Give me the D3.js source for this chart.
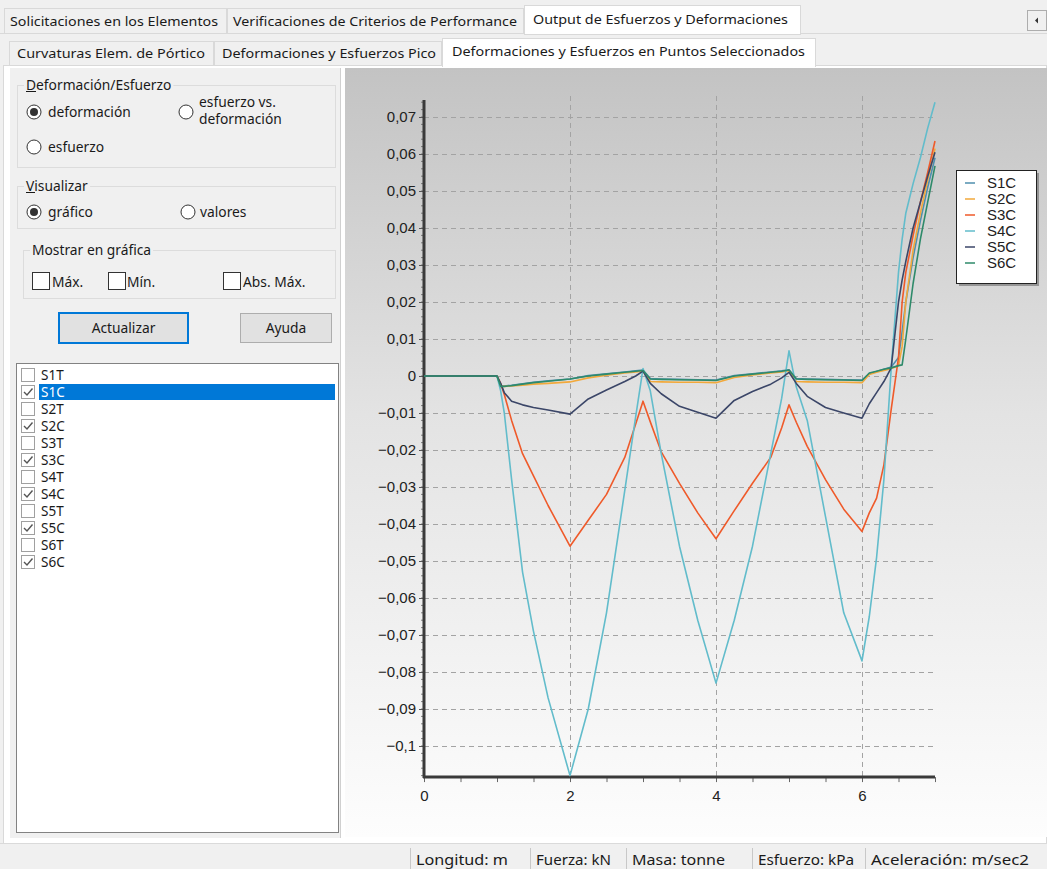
<!DOCTYPE html>
<html>
<head>
<meta charset="utf-8">
<script src="https://cdn.jsdelivr.net/npm/d3@7"></script>
<style>
  html, body { margin: 0; padding: 0; background: #f0f0f0; }
  svg { display: block; }
  .ui { font-family: "Noto Sans", "Open Sans", sans-serif; fill: #1a1a1a; }
  .ax { font-family: "Liberation Sans", Arial, sans-serif; fill: #222; }
</style>
</head>
<body>
<svg id="root" width="1047" height="869"></svg>
<script>
// ---------------- DATA ----------------
const xValues = [0, 1.0, 1.05, 1.1, 1.2, 1.35, 1.5, 1.7, 2.0, 2.25, 2.5, 2.75, 2.9, 3.0, 3.1, 3.25, 3.5, 3.75, 4.0, 4.25, 4.5, 4.75, 4.9, 5.0, 5.1, 5.25, 5.5, 5.75, 6.0, 6.1, 6.2, 6.3, 6.4, 6.5, 6.55, 6.6, 6.7, 6.8, 6.9, 7.0];
const seriesNames = ["S1C", "S2C", "S3C", "S4C", "S5C", "S6C"];
const s1c = [0, 0, -0.0028, -0.0027, -0.0025, -0.0021, -0.0017, -0.0013, -0.0008, 0.0001, 0.0006, 0.0011, 0.0014, 0.0016, -0.0007, -0.0008, -0.0009, -0.001, -0.0011, 0.0001, 0.0006, 0.0011, 0.0014, 0.0017, -0.0007, -0.0008, -0.0009, -0.001, -0.0011, 0.0006, 0.0012, 0.0018, 0.0024, 0.005, 0.012, 0.020, 0.032, 0.042, 0.051, 0.059];
const s2c = [0, 0, -0.0028, -0.0028, -0.0027, -0.0025, -0.0022, -0.002, -0.0016, -0.0005, 0.0002, 0.0008, 0.0011, 0.0013, -0.0015, -0.0016, -0.0017, -0.0017, -0.0018, -0.0004, 0.0003, 0.0008, 0.0011, 0.0014, -0.0015, -0.0016, -0.0017, -0.0017, -0.0018, 0.0004, 0.001, 0.0015, 0.002, 0.0028, 0.008, 0.020, 0.034, 0.044, 0.053, 0.0615];
const s3c = [0, 0, -0.002, -0.005, -0.012, -0.021, -0.027, -0.035, -0.046, -0.039, -0.032, -0.022, -0.013, -0.0068, -0.0124, -0.0205, -0.029, -0.037, -0.044, -0.0364, -0.029, -0.022, -0.014, -0.0078, -0.0125, -0.019, -0.028, -0.036, -0.042, -0.037, -0.033, -0.024, -0.009, 0.005, 0.020, 0.028, 0.038, 0.047, 0.055, 0.0635];
const s4c = [0, 0, -0.004, -0.010, -0.028, -0.053, -0.069, -0.087, -0.108, -0.090, -0.064, -0.031, -0.011, 0.002, -0.004, -0.021, -0.046, -0.066, -0.083, -0.066, -0.046, -0.021, -0.006, 0.0068, -0.003, -0.012, -0.038, -0.064, -0.077, -0.065, -0.049, -0.028, 0.002, 0.028, 0.037, 0.044, 0.052, 0.059, 0.067, 0.074];
const s5c = [0, 0, -0.002, -0.0045, -0.0068, -0.0078, -0.0085, -0.0092, -0.0103, -0.0062, -0.0038, -0.0015, 0.0, 0.0013, -0.002, -0.0048, -0.0082, -0.0098, -0.0114, -0.0066, -0.0042, -0.0022, -0.0005, 0.001, -0.002, -0.0055, -0.0085, -0.0100, -0.0114, -0.0075, -0.0045, -0.0015, 0.0022, 0.020, 0.026, 0.031, 0.040, 0.047, 0.054, 0.0605];
const s6c = [0, 0, -0.0028, -0.0028, -0.0026, -0.0022, -0.0018, -0.0014, -0.0008, 0.0, 0.0005, 0.001, 0.0013, 0.0015, -0.0008, -0.0009, -0.001, -0.0011, -0.0012, 0.0, 0.0005, 0.001, 0.0013, 0.0016, -0.0008, -0.0009, -0.001, -0.0011, -0.0012, 0.0008, 0.0013, 0.0018, 0.0022, 0.0028, 0.003, 0.010, 0.025, 0.037, 0.047, 0.0568];
const seriesColors = ["#4f8fae", "#f2a93b", "#ef5a2a", "#62bccb", "#3b4668", "#2e8a6a"];
const yTickValues = [0.07, 0.06, 0.05, 0.04, 0.03, 0.02, 0.01, 0, -0.01, -0.02, -0.03, -0.04, -0.05, -0.06, -0.07, -0.08, -0.09, -0.1];
const xTickValues = [0, 2, 4, 6];
const listItems = ["S1T", "S1C", "S2T", "S2C", "S3T", "S3C", "S4T", "S4C", "S5T", "S5C", "S6T", "S6C"];
const listChecked = [false, true, false, true, false, true, false, true, false, true, false, true];
const topTabs = ["Solicitaciones en los Elementos", "Verificaciones de Criterios de Performance", "Output de Esfuerzos y Deformaciones"];
const subTabs = ["Curvaturas Elem. de Pórtico", "Deformaciones y Esfuerzos Pico", "Deformaciones y Esfuerzos en Puntos Seleccionados"];
const statusItems = ["Longitud: m", "Fuerza: kN", "Masa: tonne", "Esfuerzo: kPa", "Aceleración: m/sec2"];

const seriesValues = [s1c, s2c, s3c, s4c, s5c, s6c];

// ---------------- LAYOUT (pixel geometry of the window) ----------------
const topTabBox = [[4, 227], [227, 524], [524, 801]];
const topTabTextW = [208, 284, 255];
const subTabBox = [[9, 214], [214, 442], [442, 816]];
const subTabTextW = [188, 214, 353];
const statusX = [410, 530, 626, 752, 865];
const statusTextW = [92, 75, 93, 96, 158];

// ---------------- UI ----------------
const svg = d3.select("#root");
const defs = svg.append("defs");

svg.append("rect").attr("x", 0).attr("y", 0).attr("width", 1047).attr("height", 869).attr("fill", "#f0f0f0");

// top tabs
svg.append("line").attr("x1", 0).attr("x2", 1047).attr("y1", 33.5).attr("y2", 33.5).attr("stroke", "#d9d9d9");
topTabs.forEach((t, i) => {
  const [a, b] = topTabBox[i];
  const active = i === 2;
  svg.append("rect").attr("x", a + 0.5).attr("y", active ? 5.5 : 8.5).attr("width", b - a - 1)
    .attr("height", active ? 29 : 25).attr("fill", active ? "#ffffff" : "#f0f0f0").attr("stroke", "#d9d9d9");
  svg.append("text").attr("class", "ui").attr("x", a + (active ? 9 : 6)).attr("y", active ? 24 : 26)
    .attr("font-size", 13).attr("textLength", topTabTextW[i]).attr("lengthAdjust", "spacingAndGlyphs").text(t);
});
svg.append("rect").attr("x", 1027.5).attr("y", 10.5).attr("width", 19).attr("height", 20).attr("fill", "#f0f0f0").attr("stroke", "#adadad");
svg.append("path").attr("d", "M1035,20.5 L1038,17.5 L1038,23.5 Z").attr("fill", "#333");

// sub tabs
svg.append("rect").attr("x", 3.5).attr("y", 65.5).attr("width", 1043).attr("height", 778).attr("fill", "#ffffff").attr("stroke", "#d9d9d9");
subTabs.forEach((t, i) => {
  const [a, b] = subTabBox[i];
  const active = i === 2;
  svg.append("rect").attr("x", a + 0.5).attr("y", active ? 38.5 : 41.5).attr("width", b - a - 1)
    .attr("height", active ? 28 : 24).attr("fill", active ? "#ffffff" : "#f0f0f0").attr("stroke", "#d9d9d9");
  svg.append("text").attr("class", "ui").attr("x", a + (active ? 10 : 8)).attr("y", active ? 56 : 58)
    .attr("font-size", 13).attr("textLength", subTabTextW[i]).attr("lengthAdjust", "spacingAndGlyphs").text(t);
});
svg.append("rect").attr("x", 443).attr("y", 63).attr("width", 372).attr("height", 4).attr("fill", "#ffffff");

// left panel
svg.append("rect").attr("x", 10).attr("y", 68).attr("width", 331).attr("height", 770).attr("fill", "#f0f0f0");
svg.append("line").attr("x1", 340.5).attr("x2", 340.5).attr("y1", 68).attr("y2", 838).attr("stroke", "#d0d0d0");

const UIFS = 13.8;
function groupBox(x, y, w, h, label, lx) {
  svg.append("rect").attr("x", x + 0.5).attr("y", y + 0.5).attr("width", w).attr("height", h)
    .attr("fill", "none").attr("stroke", "#dcdcdc");
  const t = svg.append("text").attr("class", "ui").attr("x", lx).attr("y", y + 5).attr("font-size", UIFS).text(label);
  const bb = t.node().getBBox();
  svg.insert("rect", () => t.node()).attr("x", bb.x - 2).attr("y", y - 2).attr("width", bb.width + 4).attr("height", 5).attr("fill", "#f0f0f0");
  return t;
}
function radio(cx, cy, on) {
  svg.append("circle").attr("cx", cx).attr("cy", cy).attr("r", 7).attr("fill", "#fff").attr("stroke", "#333").attr("stroke-width", 1);
  if (on) svg.append("circle").attr("cx", cx).attr("cy", cy).attr("r", 4).attr("fill", "#333");
}
function check(x, y, s) {
  svg.append("rect").attr("x", x + 0.5).attr("y", y + 0.5).attr("width", s).attr("height", s).attr("fill", "#fff").attr("stroke", "#333");
}
function label(x, y, t, size) {
  return svg.append("text").attr("class", "ui").attr("x", x).attr("y", y).attr("font-size", size || UIFS).text(t);
}

groupBox(17, 85, 318, 82, "Deformación/Esfuerzo", 26);
svg.append("line").attr("x1", 26).attr("x2", 36).attr("y1", 91.5).attr("y2", 91.5).attr("stroke", "#1a1a1a");
radio(34, 112, true); label(48, 117, "deformación");
radio(186, 112, false); label(199, 107, "esfuerzo vs."); label(199, 124, "deformación");
radio(34, 147, false); label(48, 152, "esfuerzo");

groupBox(17, 186, 318, 42, "Visualizar", 26);
svg.append("line").attr("x1", 26).attr("x2", 35).attr("y1", 192.5).attr("y2", 192.5).attr("stroke", "#1a1a1a");
radio(34, 212, true); label(48, 217, "gráfico");
radio(188, 212, false); label(200, 217, "valores");

groupBox(23, 250, 312, 48, "Mostrar en gráfica", 32);
check(32, 272, 17); label(52, 287, "Máx.");
check(108, 272, 17); label(127, 287, "Mín.");
check(223, 272, 17); label(243, 287, "Abs. Máx.");

svg.append("rect").attr("x", 59).attr("y", 313).attr("width", 129).attr("height", 30).attr("fill", "#e1e1e1").attr("stroke", "#0078d7").attr("stroke-width", 2);
svg.append("text").attr("class", "ui").attr("x", 123.5).attr("y", 333).attr("text-anchor", "middle").attr("font-size", UIFS).text("Actualizar");
svg.append("rect").attr("x", 240.5).attr("y", 313.5).attr("width", 91).attr("height", 29).attr("fill", "#e1e1e1").attr("stroke", "#adadad");
svg.append("text").attr("class", "ui").attr("x", 286).attr("y", 333).attr("text-anchor", "middle").attr("font-size", UIFS).text("Ayuda");

// list box
svg.append("rect").attr("x", 16.5).attr("y", 363.5).attr("width", 322).attr("height", 469).attr("fill", "#fff").attr("stroke", "#828282");
listItems.forEach((it, i) => {
  const cy = 375 + i * 17;
  if (i === 1) {
    svg.append("rect").attr("x", 39).attr("y", cy - 8).attr("width", 296).attr("height", 16).attr("fill", "#0078d7");
  }
  svg.append("rect").attr("x", 21.5).attr("y", cy - 6.5).attr("width", 13).attr("height", 13).attr("fill", "#fff").attr("stroke", "#a0a0a0");
  if (listChecked[i]) {
    svg.append("path").attr("d", `M24,${cy} L27,${cy + 3} L32.5,${cy - 3.5}`).attr("fill", "none").attr("stroke", "#555").attr("stroke-width", 1.4);
  }
  svg.append("text").attr("class", "ui").attr("x", 41).attr("y", cy + 5).attr("font-size", 13.5)
    .style("fill", i === 1 ? "#ffffff" : null).text(it);
});

// ---------------- CHART ----------------
const grad = defs.append("linearGradient").attr("id", "bg").attr("x1", 0).attr("x2", 0).attr("y1", 0).attr("y2", 1);
grad.append("stop").attr("offset", "0%").attr("stop-color", "#c3c3c3");
grad.append("stop").attr("offset", "45%").attr("stop-color", "#e3e3e3");
grad.append("stop").attr("offset", "100%").attr("stop-color", "#fdfdfd");
svg.append("rect").attr("x", 345).attr("y", 68).attr("width", 702).attr("height", 769).attr("fill", "url(#bg)");

const x = d3.scaleLinear().domain([0, 7]).range([424, 935]);
const y = d3.scaleLinear().domain([-0.1, 0.07]).range([746, 117]);
const yTop = 0.0746, yBottom = -0.1084;

const chart = svg.append("g");
chart.append("g").selectAll("line").data(yTickValues).join("line")
  .attr("x1", x(0)).attr("x2", x(7)).attr("y1", d => Math.round(y(d)) + 0.5).attr("y2", d => Math.round(y(d)) + 0.5)
  .attr("stroke", "#a3a3a3").attr("stroke-dasharray", "5,4");
chart.append("g").selectAll("line").data(xTickValues.filter(v => v > 0)).join("line")
  .attr("x1", d => Math.round(x(d)) + 0.5).attr("x2", d => Math.round(x(d)) + 0.5).attr("y1", y(yTop) - 4).attr("y2", y(yBottom))
  .attr("stroke", "#a3a3a3").attr("stroke-dasharray", "5,4");

const yAxis = d3.axisLeft(y).tickValues(yTickValues).tickSize(5).tickPadding(3)
  .tickFormat(d => d === 0 ? "0" : d3.format(".2~f")(d).replace(".", ","));
const gy = chart.append("g").attr("transform", `translate(${x(0)},0)`).call(yAxis);
gy.select(".domain").remove();
gy.selectAll(".tick line").attr("stroke", "#555");
gy.selectAll(".tick text").attr("font-size", 15).attr("font-family", "Liberation Sans, Arial, sans-serif").attr("fill", "#222");
const minorY = d3.range(-0.108, 0.0745, 0.002);
chart.append("g").selectAll("line").data(minorY).join("line")
  .attr("x1", x(0) - 3).attr("x2", x(0)).attr("y1", d => y(d)).attr("y2", d => y(d))
  .attr("stroke", "#666").attr("stroke-width", 0.8);
chart.append("line").attr("x1", x(0)).attr("x2", x(0)).attr("y1", y(yTop)).attr("y2", y(yBottom) + 1)
  .attr("stroke", "#3a3a3a").attr("stroke-width", 3);

const xAxis = d3.axisBottom(x).tickValues(d3.range(0, 7.01, 0.5)).tickSize(5).tickPadding(8)
  .tickFormat(d => xTickValues.includes(d) ? String(d) : "");
const gx = chart.append("g").attr("transform", `translate(0,${y(yBottom)})`).call(xAxis);
gx.select(".domain").remove();
gx.selectAll(".tick line").attr("stroke", "#666");
gx.selectAll(".tick text").attr("font-size", 15).attr("font-family", "Liberation Sans, Arial, sans-serif").attr("fill", "#222");
chart.append("line").attr("x1", x(0) - 1).attr("x2", x(7)).attr("y1", y(yBottom)).attr("y2", y(yBottom))
  .attr("stroke", "#3a3a3a").attr("stroke-width", 3);

const line = d3.line().x((d, i) => x(xValues[i])).y(d => y(d));
chart.append("g").selectAll("path").data(seriesValues).join("path")
  .attr("d", d => line(d)).attr("fill", "none")
  .attr("stroke", (d, i) => seriesColors[i]).attr("stroke-width", 1.6).attr("stroke-linejoin", "round");

// legend
const lg = svg.append("g").attr("transform", "translate(956,170)");
lg.append("rect").attr("x", 3).attr("y", 3).attr("width", 80).attr("height", 113).attr("fill", "#6a6a6a").attr("opacity", 0.6);
lg.append("rect").attr("x", 0.5).attr("y", 0.5).attr("width", 80).attr("height", 113).attr("fill", "#fff").attr("stroke", "#222");
seriesNames.forEach((n, i) => {
  const cy = 13 + i * 16;
  lg.append("line").attr("x1", 9).attr("x2", 19).attr("y1", cy).attr("y2", cy).attr("stroke", seriesColors[i]).attr("stroke-width", 1.5);
  lg.append("text").attr("class", "ax").attr("x", 31).attr("y", cy + 5).attr("font-size", 15).text(n);
});

// status bar
svg.append("rect").attr("x", 0).attr("y", 843).attr("width", 1047).attr("height", 26).attr("fill", "#f0f0f0");
svg.append("line").attr("x1", 0).attr("x2", 1047).attr("y1", 843.5).attr("y2", 843.5).attr("stroke", "#dadada");
statusItems.forEach((s, i) => {
  svg.append("line").attr("x1", statusX[i] + 0.5).attr("x2", statusX[i] + 0.5).attr("y1", 848).attr("y2", 869).attr("stroke", "#c8c8c8");
  svg.append("text").attr("class", "ui").attr("x", statusX[i] + 6).attr("y", 865).attr("font-size", 14.5)
    .attr("textLength", statusTextW[i]).attr("lengthAdjust", "spacingAndGlyphs").text(s);
});
</script>
</body>
</html>
